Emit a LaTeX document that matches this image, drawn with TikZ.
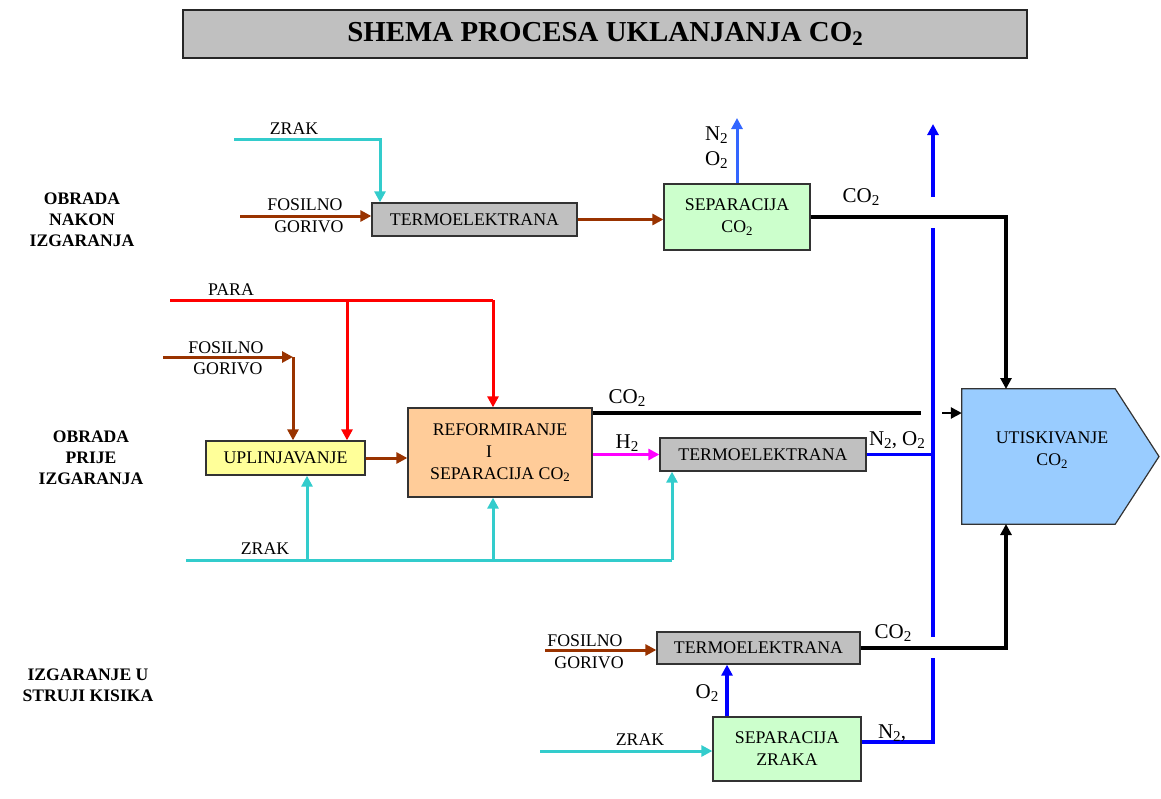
\documentclass[tikz,border=0pt]{standalone}
\usepackage{fontspec}
\usepackage{graphicx}
\setmainfont{Liberation Serif}
\usetikzlibrary{arrows.meta}
\newcommand\lowtwo{\raisebox{-0.3ex}{\scalebox{0.72}{2}}}
\definecolor{cyanc}{HTML}{33CCCC}
\definecolor{brownc}{HTML}{993300}
\definecolor{redc}{HTML}{FF0000}
\definecolor{magc}{HTML}{FF00FF}
\definecolor{bluec}{HTML}{0000FF}
\definecolor{lbluec}{HTML}{3366FF}
\definecolor{grayc}{HTML}{C0C0C0}
\definecolor{greenc}{HTML}{CCFFCC}
\definecolor{yelc}{HTML}{FFFF99}
\definecolor{orc}{HTML}{FFCC99}
\definecolor{utc}{HTML}{99CCFF}
\begin{document}
\begin{tikzpicture}[x=1pt,y=-1pt,
  box/.style={draw=black!80, line width=1.3pt, inner sep=0pt, align=center,
    font=\fontsize{17.8}{22}\selectfont},
  graybox/.style={box, fill=grayc},
  greenbox/.style={box, fill=greenc},
  lab/.style={inner sep=0pt, font=\fontsize{17.8}{20}\selectfont},
  big/.style={inner sep=0pt, font=\fontsize{21}{23}\selectfont},
  side/.style={inner sep=0pt, align=center, font=\bfseries\fontsize{17.6}{21}\selectfont},
  tip/.style={-{Triangle[length=11pt,width=11pt]}},
  cyl/.style={draw=cyanc, line width=3pt},
  brl/.style={draw=brownc, line width=3pt},
  rdl/.style={draw=redc, line width=3pt},
  mgl/.style={draw=magc, line width=3pt},
  bll/.style={draw=bluec, line width=3.5pt},
  lbl/.style={draw=lbluec, line width=3pt},
  bkl/.style={draw=black, line width=3.5pt},
]
\useasboundingbox (0,0) rectangle (1161,798);

% title
\node[draw=black!85, line width=1.5pt, fill=grayc, minimum width=844, minimum height=48, inner sep=0pt]
  (title) at (605,34) {\bfseries\fontsize{28.9}{30}\selectfont SHEMA PROCESA UKLANJANJA CO\lowtwo};

% side labels
\node[side] (sideA) at (82,220) {OBRADA\\NAKON\\IZGARANJA};
\node[side] (sideB) at (91,458) {OBRADA\\PRIJE\\IZGARANJA};
\node[side] (sideC) at (88,685) {IZGARANJE U\\STRUJI KISIKA};

% boxes
\node[graybox, minimum width=205, minimum height=33] (t1) at (474.5,219.5) {TERMOELEKTRANA};
\node[greenbox, minimum width=146, minimum height=66] (s1) at (737,217) {SEPARACIJA\\CO\lowtwo};
\node[box, fill=yelc, minimum width=159, minimum height=34] (up) at (285.5,458) {UPLINJAVANJE};
\node[box, fill=orc, minimum width=184, minimum height=89] (rf) at (500,452.5)
  {REFORMIRANJE\\\makebox[28pt][l]{I}\\SEPARACIJA CO\lowtwo};
\node[graybox, minimum width=206, minimum height=33] (t2) at (763,454.5) {TERMOELEKTRANA};
\node[graybox, minimum width=203, minimum height=32] (t3) at (758.5,648) {TERMOELEKTRANA};
\node[greenbox, minimum width=148, minimum height=64] (s2) at (787,749) {SEPARACIJA\\ZRAKA};

% UTISKIVANJE
\node[inner sep=0pt, minimum width=153, minimum height=135] (ut) at (1038.5,456.5) {};
\filldraw[fill=utc, draw=black!80, line width=1.2pt]
  (ut.north west) -- (ut.north east) -- (1159,456.5) -- (ut.south east) -- (ut.south west) -- cycle;
\node[box, draw=none, fill=none] (uttext) at (1052,450) {UTISKIVANJE\\CO\lowtwo};

% coordinates
\coordinate (z1) at (234,139);
\coordinate (f1) at (240,216);
\coordinate (nu) at (736,118);
\coordinate (u1) at (1006,389);
\coordinate (u2) at (1006,524);
\coordinate (btop) at (933,124);
\coordinate (b1) at (933,197);
\coordinate (b2) at (933,228);
\coordinate (b3) at (933,637);
\coordinate (b4) at (933,658);
\coordinate (b5) at (933,742);
\coordinate (m1) at (921,413);
\coordinate (m2) at (942,413);
\coordinate (p0) at (170,300);
\coordinate (p1) at (493,300);
\coordinate (p2) at (347,300);
\coordinate (g0) at (163,357);
\coordinate (g1) at (293,357);
\coordinate (zb0) at (186,560);
\coordinate (zb1) at (672,560);
\coordinate (zb2) at (307,560);
\coordinate (zb3) at (493,560);
\coordinate (h0) at (545,650);
\coordinate (zz) at (540,751);

% top row
\draw[cyl, tip] (z1) -| ([xshift=-94.5pt]t1.north);
\draw[brl, tip] (f1) -- (f1 -| t1.west);
\draw[brl, tip] (t1.east) -- (t1.east -| s1.west);
\draw[lbl, tip] (s1.north) -- (s1.north |- nu);
\draw[bkl, tip] (s1.east) -| (u1);

% blue collector
\draw[bll, tip] (b1) -- (btop);
\draw[bll] (b3) -- (b2);
\draw[bll] (s2.east |- b5) -- (b5) -- (b4);
\draw[bll] (t2.east) -- (t2.east -| b2);

% middle row
\draw[rdl] (p0) -- (p1);
\draw[rdl, tip] (p1) -- (p1 |- rf.north);
\draw[rdl, tip] (p2) -- (p2 |- up.north);
\draw[brl, tip] (g0) -- (g1);
\draw[brl, tip] (g1) -- (g1 |- up.north);
\draw[brl, tip] (up.east) -- (up.east -| rf.west);
\draw[bkl] (rf.east |- m1) -- (m1);
\draw[bkl, line width=2.5pt, tip] (m2) -- (m2 -| ut.west);
\draw[mgl, tip] (rf.east |- t2.west) -- (t2.west);
\draw[cyl] (zb0) -- (zb1);
\draw[cyl, tip] (zb1) -- (zb1 |- t2.south);
\draw[cyl, tip] (zb2) -- (zb2 |- up.south);
\draw[cyl, tip] (zb3) -- (zb3 |- rf.south);

% bottom row
\draw[brl, tip] (h0) -- (h0 -| t3.west);
\draw[bkl, tip] (t3.east) -| (u2);
\draw[bll, tip] ([xshift=-60pt]s2.north) -- ([xshift=-60pt]s2.north |- t3.south);
\draw[cyl, tip] (zz) -- (zz -| s2.west);

% labels
\node[lab] (lz1) at (294,129) {ZRAK};
\node[lab] (lf1) at (305,205) {FOSILNO};
\node[lab] (lg1) at (309,227) {GORIVO};
\node[big, anchor=east] (ln2) at (728,135) {N\lowtwo};
\node[big, anchor=east] (lo2) at (728,160) {O\lowtwo};
\node[big] (lc1) at (861,197) {CO\lowtwo};
\node[lab] (lpara) at (231,290) {PARA};
\node[lab] (lf2) at (226,348) {FOSILNO};
\node[lab] (lg2) at (228,369) {GORIVO};
\node[big] (lc2) at (627,398) {CO\lowtwo};
\node[big] (lh2) at (627,443) {H\lowtwo};
\node[big] (lno) at (897,440) {N\lowtwo, O\lowtwo};
\node[lab] (lz2) at (265,549) {ZRAK};
\node[lab] (lf3) at (585,641) {FOSILNO};
\node[lab] (lg3) at (589,663) {GORIVO};
\node[big] (lc3) at (893,633) {CO\lowtwo};
\node[big] (lo3) at (707,693) {O\lowtwo};
\node[lab] (lz3) at (640,740) {ZRAK};
\node[big] (ln3) at (892,733) {N\lowtwo,};
\end{tikzpicture}
\end{document}
